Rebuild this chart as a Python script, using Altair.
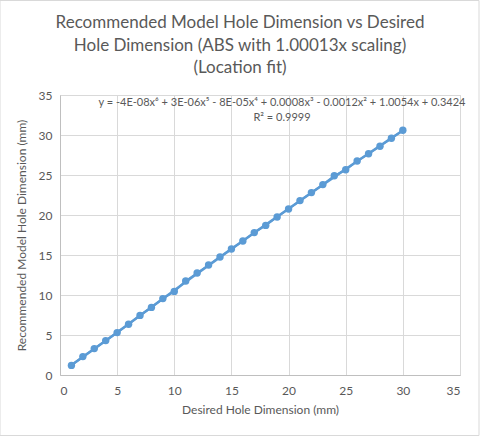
import altair as alt
import pandas as pd

desired = list(range(1, 31))
recommended = [1.2, 2.3, 3.3, 4.3, 5.3, 6.35, 7.45, 8.45, 9.55, 10.45,
               11.75, 12.75, 13.75, 14.75, 15.75, 16.75, 17.8, 18.7, 19.75, 20.75,
               21.8, 22.8, 23.8, 24.9, 25.65, 26.75, 27.65, 28.6, 29.6, 30.6]
tick_values = [0, 5, 10, 15, 20, 25, 30, 35]

title_lines = ["Recommended Model Hole Dimension vs Desired",
               "Hole Dimension (ABS with 1.00013x scaling)",
               "(Location fit)"]
equation = "y = -4E-08x\u2076 + 3E-06x\u2075 - 8E-05x\u2074 + 0.0008x\u00b3 - 0.0012x\u00b2 + 1.0054x + 0.3424"
r2 = "R\u00b2 = 0.9999"

df = pd.DataFrame({"x": desired, "y": recommended})

FONT = "Lato"
GREY = "#595959"
BLUE = "#5B9BD5"

X = alt.X("x:Q", scale=alt.Scale(domain=[0, 35], nice=False),
          axis=alt.Axis(values=tick_values, title="Desired Hole Dimension (mm)"))
Y = alt.Y("y:Q", scale=alt.Scale(domain=[0, 35], nice=False),
          axis=alt.Axis(values=tick_values, title="Recommended  Model Hole Dimension (mm)"))

base = alt.Chart(df)

border = alt.Chart(pd.DataFrame({"a": [0]})).mark_rect(
    fillOpacity=0, stroke="#D9D9D9", strokeWidth=1
).encode(x=alt.value(-60), x2=alt.value(419), y=alt.value(-94.5), y2=alt.value(340.5))

line = base.mark_line(color=BLUE, strokeWidth=2).encode(x=X, y=Y)

trend = base.transform_regression("x", "y", method="poly", order=6,
                                  extent=[1, 30]).mark_line(
    color=BLUE, strokeWidth=2.5
).encode(x=X, y=Y)

points = base.mark_circle(size=55, color=BLUE, opacity=1).encode(x=X, y=Y)

def text_layer(t, x, y, size):
    return alt.Chart(pd.DataFrame({"t": [t]})).mark_text(
        font=FONT, fontSize=size, color=GREY, align="center", baseline="middle"
    ).encode(text="t:N", x=alt.value(x), y=alt.value(y))

titles = [text_layer(t, 180, yy, 17) for t, yy in zip(title_lines, [-72, -49, -27])]

eq_text = text_layer(equation, 222, 8, 11)
r2_text = text_layer(r2, 222, 23, 11)

chart = alt.layer(line, trend, points, border, eq_text, r2_text, *titles).properties(
    width=400, height=280,
    padding={"left": 60, "top": 95, "right": 20, "bottom": 61},
    autosize=alt.AutoSizeParams(type="none"),
).configure_view(stroke="#D9D9D9").configure_axis(
    labelFont=FONT, labelFontSize=12, labelColor=GREY, labelOverlap=False,
    titleFont=FONT, titleFontSize=12, titleColor=GREY, titleFontWeight="normal",
    gridColor="#D9D9D9", domainColor="#BFBFBF", ticks=False, labelPadding=8,
).configure_axisX(titlePadding=8, labelPadding=10).configure_axisY(titlePadding=10)

chart.save("out.html", embed_options={"renderer": "svg", "actions": False})
